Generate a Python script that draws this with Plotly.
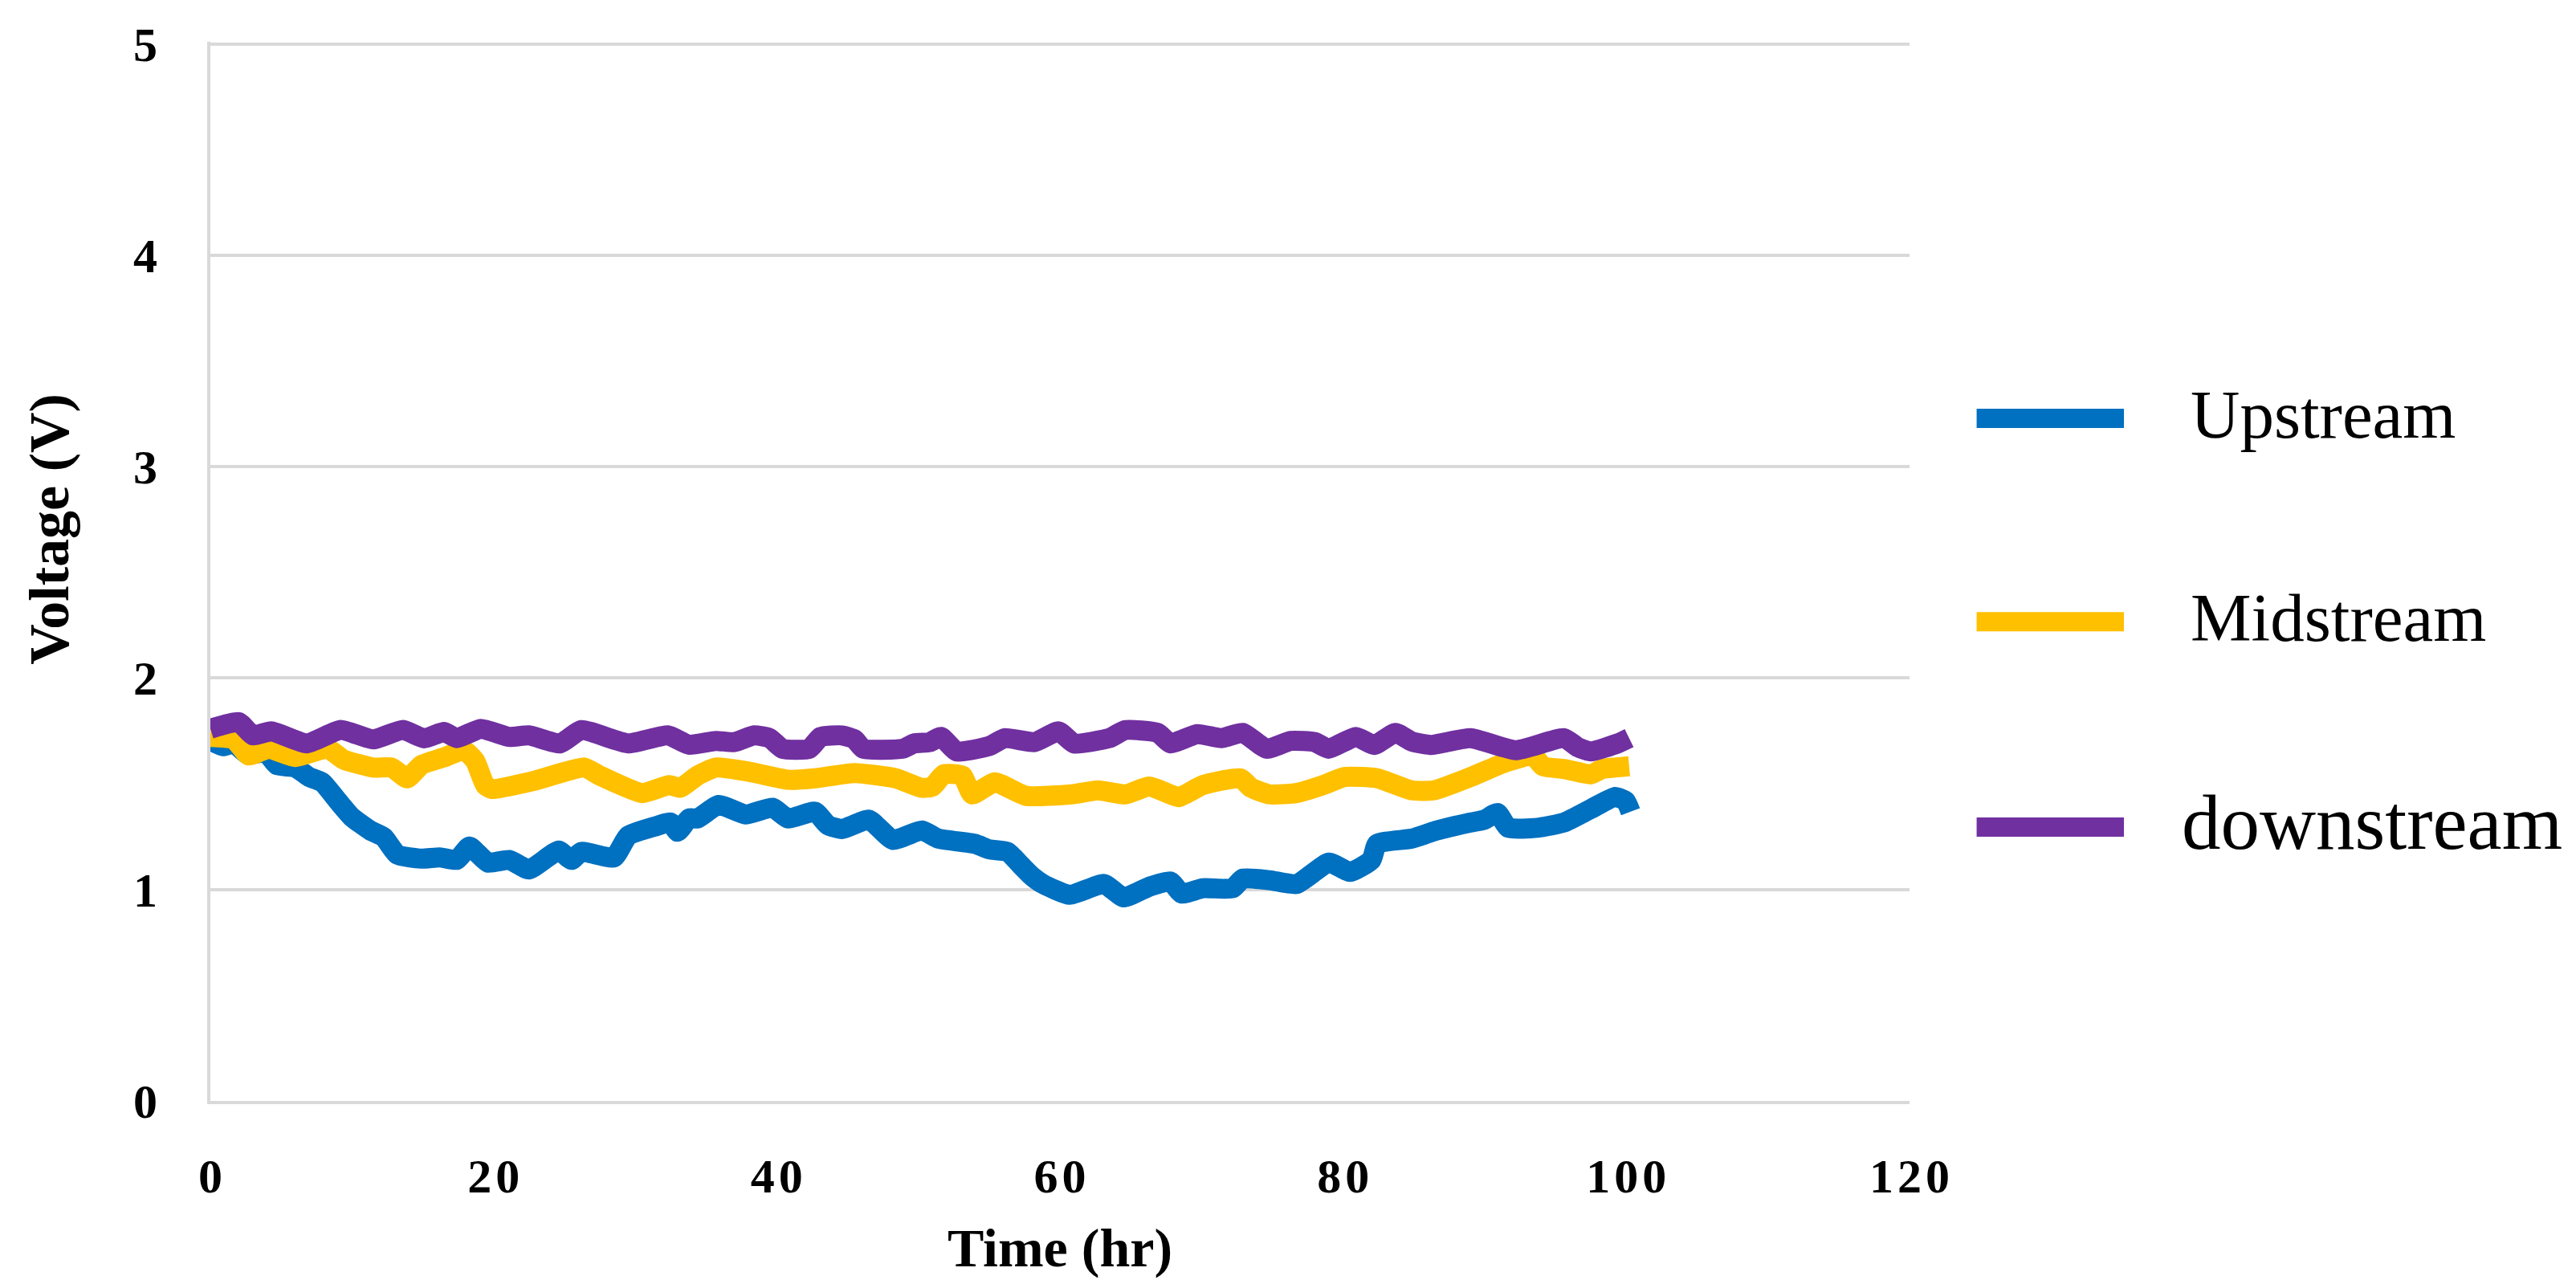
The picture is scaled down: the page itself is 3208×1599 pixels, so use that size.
import plotly.graph_objects as go

# ---- data ----
up_t = [0, 0.9, 1.66, 2.6, 3.93, 4.69, 6.0, 6.96, 7.9, 9.0, 9.98, 11.3, 12.25, 13.2, 14.9, 16.2,
        17.4, 18.3, 19.6, 21.1, 22.5, 24.6, 25.5, 26.2, 28.5, 29.5, 31.4, 32.5, 33.0, 33.8, 34.4,
        35.9, 37.8, 39.7, 40.8, 42.7, 43.6, 44.6, 46.5, 48.2, 50.25, 51.4, 54.0, 55.0, 56.3, 57.25,
        58.0, 58.8, 60.7, 63.1, 64.5, 66.3, 67.8, 68.6, 70.1, 72.2, 72.9, 74.8, 76.7, 79.0, 80.5,
        82.0, 82.4, 84.85, 86.6, 89.0, 89.97, 90.9, 91.65, 93.75, 95.6, 97.5, 99.2, 99.95, 100.3]
up_v = [1.704, 1.678, 1.691, 1.640, 1.647, 1.589, 1.577, 1.533, 1.507, 1.419, 1.343, 1.279, 1.247,
        1.165, 1.146, 1.152, 1.140, 1.203, 1.127, 1.140, 1.095, 1.184, 1.140, 1.178, 1.152, 1.254,
        1.298, 1.317, 1.273, 1.336, 1.336, 1.400, 1.355, 1.387, 1.336, 1.368, 1.305, 1.286, 1.330,
        1.235, 1.279, 1.241, 1.216, 1.190, 1.178, 1.114, 1.064, 1.026, 0.975, 1.026, 0.963, 1.013,
        1.038, 0.981, 1.006, 1.006, 1.051, 1.044, 1.026, 1.127, 1.083, 1.140, 1.216, 1.241, 1.279,
        1.317, 1.330, 1.362, 1.292, 1.292, 1.317, 1.381, 1.438, 1.419, 1.368]

mid_t = [0, 1.66, 2.7, 4.12, 6.0, 8.28, 9.4, 11.5, 12.8, 13.9, 14.9, 16.5, 17.9, 18.7, 19.4, 19.9,
         22.8, 26.4, 27.5, 30.5, 32.4, 33.2, 34.4, 35.7, 37.99, 40.8, 42.7, 45.5, 48.4, 50.25, 51.0,
         51.8, 53.1, 53.8, 55.4, 57.6, 60.8, 62.7, 64.6, 66.3, 67.8, 68.4, 70.1, 72.75, 73.5, 74.8,
         76.7, 78.6, 80.1, 82.4, 84.85, 86.4, 89.0, 91.5, 93.4, 94.1, 95.6, 97.5, 98.3, 99.2, 100.2]
mid_v = [1.722, 1.710, 1.634, 1.666, 1.627, 1.666, 1.615, 1.577, 1.577, 1.526, 1.589, 1.625, 1.659,
         1.608, 1.494, 1.475, 1.513, 1.577, 1.539, 1.456, 1.494, 1.481, 1.539, 1.577, 1.558, 1.519,
         1.526, 1.551, 1.526, 1.481, 1.487, 1.545, 1.539, 1.450, 1.507, 1.443, 1.450, 1.469, 1.450,
         1.487, 1.450, 1.437, 1.494, 1.526, 1.481, 1.450, 1.456, 1.494, 1.532, 1.526, 1.469, 1.469,
         1.532, 1.602, 1.634, 1.583, 1.570, 1.545, 1.570, 1.577, 1.583]

down_t = [0, 2.0, 3.0, 4.3, 6.8, 9.2, 11.5, 13.6, 15.1, 16.5, 17.4, 19.1, 21.1, 22.5, 24.7, 26.2,
          29.5, 32.3, 33.8, 35.7, 37.0, 38.4, 39.5, 40.4, 42.3, 43.1, 44.6, 45.5, 46.1, 48.9, 49.7,
          50.8, 51.6, 52.7, 55.0, 56.1, 58.2, 59.9, 61.0, 63.5, 64.6, 66.9, 67.8, 69.7, 71.4, 72.9,
          74.6, 76.3, 78.0, 78.98, 80.9, 82.2, 83.7, 84.85, 86.2, 89.0, 92.2, 95.6, 96.6, 97.5, 99.4,
          100.2]
down_v = [1.760, 1.792, 1.729, 1.748, 1.691, 1.755, 1.710, 1.755, 1.715, 1.745, 1.716, 1.760, 1.722,
          1.729, 1.691, 1.754, 1.691, 1.729, 1.685, 1.703, 1.697, 1.729, 1.716, 1.666, 1.666, 1.722,
          1.729, 1.710, 1.666, 1.666, 1.691, 1.697, 1.722, 1.653, 1.678, 1.716, 1.697, 1.748, 1.691,
          1.716, 1.754, 1.741, 1.691, 1.735, 1.716, 1.741, 1.666, 1.703, 1.697, 1.666, 1.722, 1.684,
          1.741, 1.700, 1.684, 1.716, 1.659, 1.716, 1.672, 1.653, 1.691, 1.716]

series_names = ["Upstream", "Midstream", "downstream"]
series_colors = ["#0070C0", "#FFC000", "#7030A0"]

x_ticks = [0, 20, 40, 60, 80, 100, 120]
y_ticks = [0, 1, 2, 3, 4, 5]

FONT = "Liberation Serif, Times New Roman, serif"
HS = "\u200a"

fig = go.Figure()
data = [(up_t, up_v), (mid_t, mid_v), (down_t, down_v)]
for i, (t, v) in enumerate(data):
    fig.add_trace(go.Scatter(
        x=t, y=v, mode="lines", name=series_names[i], showlegend=False,
        line=dict(color=series_colors[i], width=25, shape="spline", smoothing=0.5),
    ))

# legend keys drawn in paper coordinates (thick keys as in the reference)
leg_y = [0.6445, 0.4525, 0.2585]
leg_text_x = [1.1645, 1.1645, 1.1593]
leg_size = [85, 85, 97]
shapes = []
annotations = []
for i in range(3):
    shapes.append(dict(type="line", xref="paper", yref="paper",
                       x0=1.0395, x1=1.1262, y0=leg_y[i], y1=leg_y[i],
                       line=dict(color=series_colors[i], width=24)))
    annotations.append(dict(text=series_names[i], xref="paper", yref="paper",
                            x=leg_text_x[i], y=leg_y[i] + 0.004, xanchor="left", yanchor="middle",
                            showarrow=False,
                            font=dict(family=FONT, size=leg_size[i], color="black")))

annotations.append(dict(
    text="Voltage (V)", xref="paper", yref="paper", x=-0.0945, y=0.54,
    xanchor="center", yanchor="middle", textangle=-90, showarrow=False,
    font=dict(family=FONT, size=70, color="black", weight="bold"),
))

fig.update_layout(
    width=3208, height=1599,
    margin=dict(l=254, r=838, t=44, b=236),
    paper_bgcolor="white", plot_bgcolor="white",
    showlegend=False,
    shapes=shapes,
    annotations=annotations,
)

fig.update_xaxes(
    range=[0, 120], tickvals=x_ticks, ticktext=[HS.join(str(v)) for v in x_ticks],
    showgrid=False, zeroline=False, showline=True, linecolor="#d9d9d9", linewidth=4,
    ticks="", ticklabelstandoff=38,
    tickfont=dict(family=FONT, size=60, color="black", weight="bold"),
    title=dict(text="Time (hr)", standoff=33,
               font=dict(family=FONT, size=68, color="black", weight="bold")),
)
fig.update_yaxes(
    range=[0, 5.01], tickvals=y_ticks, ticktext=[str(v) for v in y_ticks],
    showgrid=True, gridcolor="#d9d9d9", gridwidth=4, zeroline=False,
    showline=True, linecolor="#d9d9d9", linewidth=4,
    ticks="", ticklabelstandoff=50,
    tickfont=dict(family=FONT, size=60, color="black", weight="bold"),
)

fig.write_html("out.html")
